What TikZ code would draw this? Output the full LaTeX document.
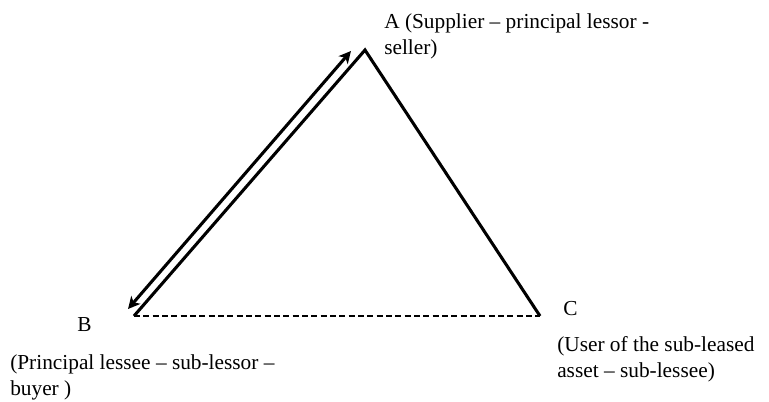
\documentclass[tikz,border=0pt]{standalone}
\usepackage{fontspec}
\setmainfont{Liberation Serif}
\usetikzlibrary{positioning, arrows, arrows.meta}
\tikzstyle{party} = [inner sep=0pt, anchor=base west, align=left, font=\fontsize{16}{19.5}\selectfont]
\tikzstyle{side} = [line width=2.3pt, line join=miter]
\tikzstyle{link} = [line width=0.8pt, dashed, dash pattern=on 4.5pt off 2.5pt]
\tikzstyle{arrow} = [line width=2.3pt,<->,>={Stealth[length=9pt,width=9pt,inset=2.5pt]}]

\begin{document}
\begin{tikzpicture}[x=0.75pt, y=-0.75pt]
        \useasboundingbox (0,0) rectangle (769,401);
        \coordinate (A) at (365,50);
        \coordinate (B) at (134,316);
        \coordinate (C) at (540,316);
        \coordinate (toA) at (351,51);
        \coordinate (toB) at (128,309);

        \node (labA) [party] at (384,54) {A (Supplier -- principal lessor -\\seller)};
        \node (labB) [party] at (77,331) {B};
        \node (descB) [party] at (10,395) {(Principal lessee -- sub-lessor --\\buyer )};
        \node (labC) [party] at (563,315) {C};
        \node (descC) [party] at (557,377) {(User of the sub-leased\\asset -- sub-lessee)};

        \draw [side] (B) -- (A) -- (C);
        \draw [link] (B) -- (C);
        \draw [arrow] (toB) -- (toA);

        \end{tikzpicture}
\end{document}
